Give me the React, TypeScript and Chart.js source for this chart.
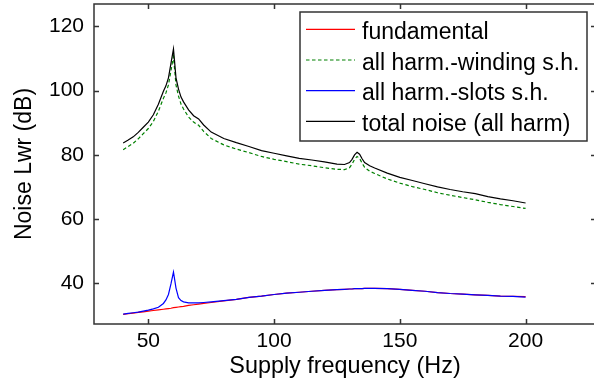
import React, { useEffect, useRef } from "react";
import { Chart, registerables } from "chart.js";

Chart.register(...registerables);

const freq = [40, 42, 44, 46, 48, 50, 52, 54, 56, 57, 58, 59, 60, 61, 62, 63, 64, 66, 68, 70, 72, 75, 80, 85, 90, 95, 100, 105, 110, 115, 120, 125, 128, 130, 131, 132, 133, 134, 135, 136, 138, 140, 145, 150, 155, 160, 165, 170, 175, 180, 185, 190, 195, 200];

const fundamental = [30.3, 30.5, 30.7, 30.9, 31.1, 31.3, 31.5, 31.7, 31.9, 32.0, 32.1, 32.2, 32.4, 32.5, 32.6, 32.7, 32.8, 33.1, 33.3, 33.5, 33.7, 34.0, 34.5, 35.0, 35.6, 36.0, 36.5, 36.9, 37.2, 37.5, 37.8, 38.0, 38.1, 38.2, 38.2, 38.3, 38.3, 38.3, 38.3, 38.4, 38.4, 38.4, 38.3, 38.1, 37.8, 37.5, 37.1, 36.8, 36.6, 36.4, 36.2, 36.0, 35.9, 35.8];

const winding = [81.6, 82.6, 83.6, 85.0, 86.6, 88.2, 90.4, 93.6, 97.6, 99.3, 101.8, 106.2, 110.7, 101.8, 98.3, 95.8, 94.3, 91.8, 90.2, 89.2, 87.3, 85.1, 83.1, 81.8, 80.7, 79.5, 78.6, 77.9, 77.1, 76.6, 76.0, 75.5, 75.4, 76.0, 77.1, 78.6, 79.5, 78.9, 77.4, 76.1, 74.9, 74.2, 72.5, 71.2, 70.1, 69.2, 68.2, 67.4, 66.7, 66.0, 65.2, 64.5, 63.9, 63.3];

const slots = [30.4, 30.6, 30.8, 31.0, 31.3, 31.6, 32.0, 32.5, 33.7, 34.8, 36.5, 39.8, 43.5, 38.5, 35.5, 34.6, 34.2, 33.9, 33.9, 33.9, 34.0, 34.2, 34.6, 35.0, 35.6, 36.0, 36.5, 36.9, 37.2, 37.5, 37.8, 38.0, 38.1, 38.2, 38.2, 38.3, 38.3, 38.3, 38.3, 38.4, 38.4, 38.4, 38.3, 38.1, 37.8, 37.5, 37.1, 36.8, 36.6, 36.4, 36.2, 36.0, 35.9, 35.7];

const total = [83.7, 84.6, 85.6, 87.0, 88.6, 90.2, 92.5, 95.8, 99.8, 101.5, 104.0, 108.5, 113.0, 104.0, 100.5, 98.0, 96.5, 94.0, 92.2, 91.2, 89.3, 87.1, 85.1, 83.8, 82.6, 81.3, 80.5, 79.7, 78.9, 78.4, 77.8, 77.1, 77.0, 77.6, 78.6, 80.0, 80.8, 80.2, 78.8, 77.6, 76.6, 75.9, 74.3, 73.0, 72.0, 71.0, 70.0, 69.2, 68.5, 67.9, 67.0, 66.3, 65.7, 65.0];

const xTicks = [50, 100, 150, 200];
const yTicks = [40, 60, 80, 100, 120];
const seriesLabels = ["fundamental", "all harm.-winding s.h.", "all harm.-slots s.h.", "total noise (all harm)"];
const xTitle = "Supply frequency (Hz)";
const yTitle = "Noise Lwr (dB)";

const FONT = '"Liberation Sans", Arial, Helvetica, sans-serif';
const COLORS = ["#ff0000", "#008000", "#0000ff", "#000000"];
const DASHES: number[][] = [[], [3.5, 2.5], [], []];

const framePlugin = {
  id: "frame",
  afterDraw(chart: any) {
    const { ctx, chartArea, scales } = chart;
    const { left, right, top, bottom } = chartArea;
    const x = scales.x;
    const y = scales.y;
    ctx.save();
    ctx.strokeStyle = "#333333";
    ctx.lineWidth = 1.5;
    ctx.setLineDash([]);
    ctx.strokeRect(left, top, right - left, bottom - top);
    const tl = 5;
    ctx.beginPath();
    xTicks.forEach((v) => {
      const px = Math.round(x.getPixelForValue(v)) + 0.5;
      ctx.moveTo(px, bottom);
      ctx.lineTo(px, bottom - tl);
      ctx.moveTo(px, top);
      ctx.lineTo(px, top + tl);
    });
    yTicks.forEach((v) => {
      const py = Math.round(y.getPixelForValue(v)) + 0.5;
      ctx.moveTo(left, py);
      ctx.lineTo(left + tl, py);
      ctx.moveTo(right, py);
      ctx.lineTo(right - tl, py);
    });
    ctx.stroke();

    // legend box inside plot
    const bx = 300, by = 12, bw = 287, bh = 129;
    ctx.fillStyle = "#ffffff";
    ctx.fillRect(bx, by, bw, bh);
    ctx.strokeStyle = "#333333";
    ctx.lineWidth = 1.5;
    ctx.strokeRect(bx, by, bw, bh);
    ctx.font = `23px ${FONT}`;
    ctx.textBaseline = "alphabetic";
    ctx.textAlign = "left";
    seriesLabels.forEach((lab, i) => {
      const base = 39 + i * 30.7;
      const ly = base - 9.7;
      ctx.beginPath();
      ctx.strokeStyle = COLORS[i];
      ctx.lineWidth = 1.2;
      ctx.setLineDash(DASHES[i]);
      ctx.moveTo(306, ly);
      ctx.lineTo(355, ly);
      ctx.stroke();
      ctx.setLineDash([]);
      ctx.fillStyle = "#000000";
      ctx.fillText(lab, 362, base);
    });
    ctx.restore();
  },
};

export default function App() {
  const ref = useRef<HTMLCanvasElement | null>(null);

  useEffect(() => {
    if (!ref.current) return;
    const series = [fundamental, winding, slots, total];
    const orders = [4, 3, 2, 1];
    const chart = new Chart(ref.current, {
      type: "line",
      data: {
        datasets: series.map((vals, i) => ({
          label: seriesLabels[i],
          data: freq.map((f, j) => ({ x: f, y: vals[j] })),
          borderColor: COLORS[i],
          borderWidth: 1.2,
          borderDash: DASHES[i],
          pointRadius: 0,
          tension: 0,
          fill: false,
          order: orders[i],
        })),
      },
      options: {
        responsive: false,
        animation: false,
        devicePixelRatio: 1,
        layout: { padding: { left: 0, top: 4, right: 1, bottom: 0 } },
        plugins: { legend: { display: false }, tooltip: { enabled: false } },
        scales: {
          x: {
            type: "linear",
            min: 28.4,
            max: 228,
            grid: { display: false, drawTicks: false },
            border: { display: false },
            afterBuildTicks: (s: any) => {
              s.ticks = xTicks.map((v) => ({ value: v }));
            },
            afterFit: (s: any) => {
              s.height = 65;
              s.paddingLeft = 0;
              s.paddingRight = 0;
              s.paddingTop = 0;
              s.paddingBottom = 0;
            },
            ticks: {
              autoSkip: false,
              maxRotation: 0,
              padding: 5,
              color: "#000",
              font: { family: FONT, size: 21 },
            },
            title: {
              display: true,
              text: xTitle,
              color: "#000",
              font: { family: FONT, size: 23.4 },
              padding: { top: 0, bottom: 8 },
            },
          },
          y: {
            type: "linear",
            min: 27.3,
            max: 127,
            grid: { display: false, drawTicks: false },
            border: { display: false },
            afterBuildTicks: (s: any) => {
              s.ticks = yTicks.map((v) => ({ value: v }));
            },
            afterFit: (s: any) => {
              s.width = 94;
              s.paddingLeft = 0;
              s.paddingRight = 0;
              s.paddingTop = 0;
              s.paddingBottom = 0;
            },
            ticks: {
              autoSkip: false,
              padding: 10,
              color: "#000",
              font: { family: FONT, size: 21 },
            },
            title: {
              display: true,
              text: yTitle,
              color: "#000",
              font: { family: FONT, size: 23 },
              padding: { top: 11, bottom: 0 },
            },
          },
        },
      },
      plugins: [framePlugin],
    });
    return () => chart.destroy();
  }, []);

  return (
    <div
      style={{
        position: "fixed",
        left: 0,
        top: 0,
        width: 594,
        height: 389,
        overflow: "hidden",
        background: "#fff",
      }}
    >
      <canvas ref={ref} width={597} height={389} style={{ display: "block", width: 597, height: 389 }} />
    </div>
  );
}
